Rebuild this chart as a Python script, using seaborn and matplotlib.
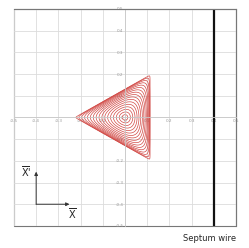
import numpy as np
import matplotlib
matplotlib.use("Agg")
import matplotlib.pyplot as plt
import seaborn as sns

# Axis ticks
ticks = [-0.5, -0.4, -0.3, -0.2, -0.1, 0.0, 0.1, 0.2, 0.3, 0.4, 0.5]
tick_labels = ["-0.5", "-0.4", "-0.3", "-0.2", "-0.1", "0", "0.1", "0.2", "0.3", "0.4", "0.5"]

# Separatrix: right side of the stable triangle
h_sep = 0.113
# Where each phase-space ring crosses the negative x axis
ring_crossings = [-0.013, -0.026, -0.039, -0.052, -0.065, -0.078, -0.091, -0.104,
                  -0.117, -0.130, -0.143, -0.156, -0.169, -0.182, -0.195, -0.208,
                  -0.221]

# Septum wire position
septum_x = [0.4, 0.4]
septum_y = [-0.5, 0.5]

sns.set_style("whitegrid")
plt.rcParams['font.family'] = ['DejaVu Sans']

fig = plt.figure(figsize=(2.49, 2.48), dpi=100)
ax = fig.add_axes([0.056, 0.089, 0.892, 0.875])

# Hamiltonian of the third-order resonance
c = 1.0 / (3.0 * h_sep)
def ham(x, y):
    return x**2 + y**2 + c * (x**3 - 3 * x * y**2)

gx = np.linspace(-0.3, 0.2, 700)
gy = np.linspace(-0.25, 0.25, 700)
X, Y = np.meshgrid(gx, gy)
H = ham(X, Y)
inside = (X < h_sep) & (np.abs(Y) < (X + 2 * h_sep) / np.sqrt(3))
H = np.where(inside, H, 1.0)
levels = sorted(ham(np.array(ring_crossings), 0.0))
ax.contour(X, Y, H, levels=levels, colors="#d24a46", linewidths=0.5)

# Septum wire
sns.lineplot(x=septum_x, y=septum_y, color="#111111", linewidth=1.6,
             estimator=None, sort=False, ax=ax)

# Coordinate arrows
ax.annotate("", xy=(-0.25, -0.4), xytext=(-0.4, -0.4),
            arrowprops=dict(arrowstyle="-|>", color="#333333", lw=0.7,
                            mutation_scale=5, shrinkA=0, shrinkB=0))
ax.annotate("", xy=(-0.4, -0.25), xytext=(-0.4, -0.4),
            arrowprops=dict(arrowstyle="-|>", color="#333333", lw=0.7,
                            mutation_scale=5, shrinkA=0, shrinkB=0))
ax.text(-0.235, -0.445, r"$\overline{\mathrm{X}}$", fontsize=7, ha="center", va="center")
ax.text(-0.447, -0.25, r"$\overline{\mathrm{X}}$'", fontsize=7, ha="center", va="center")

ax.set_xlim(-0.5, 0.5)
ax.set_ylim(-0.5, 0.5)
ax.set_xticks(ticks)
ax.set_yticks(ticks)
ax.set_xticklabels(tick_labels)
ax.set_yticklabels(tick_labels)
ax.grid(True, color="#dcdcdc", linewidth=0.6)
ax.set_axisbelow(True)

# Axes through the origin, frame drawn by the patch
ax.spines["left"].set_position("zero")
ax.spines["bottom"].set_position("zero")
for s in ["left", "bottom"]:
    ax.spines[s].set_color("#c8c8c8")
    ax.spines[s].set_linewidth(0.6)
for s in ["top", "right"]:
    ax.spines[s].set_color("#777777")
    ax.spines[s].set_linewidth(0.8)
ax.patch.set_edgecolor("#777777")
ax.patch.set_linewidth(0.8)
ax.tick_params(length=0, labelsize=3, labelcolor="#999999", pad=1)

fig.text(0.948, 0.04, "Septum wire", fontsize=6, ha="right", va="center")

fig.savefig("out.png", dpi=100)
